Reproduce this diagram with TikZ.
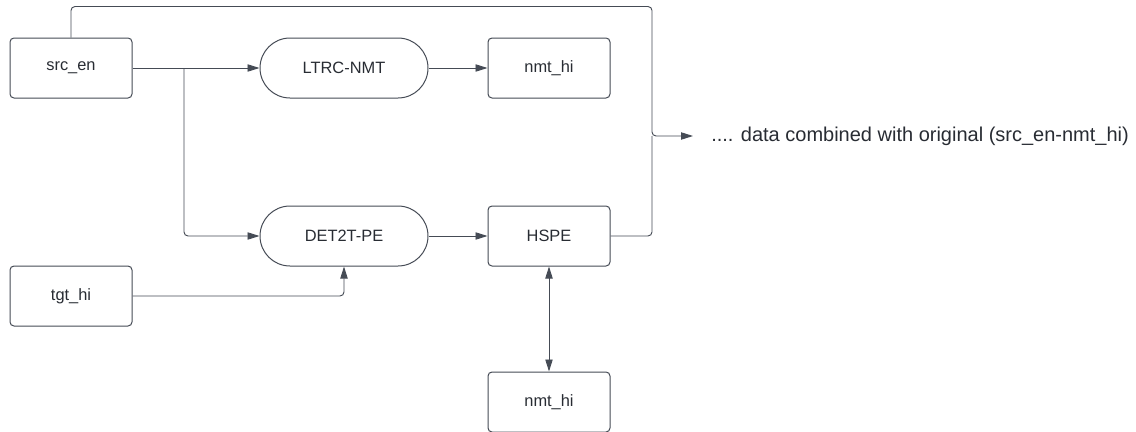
\documentclass[tikz,border=0pt]{standalone}
\usepackage{fontspec}
\setmainfont{Liberation Sans}
\usetikzlibrary{arrows.meta,shapes.misc}
\definecolor{linec}{HTML}{454B55}
\definecolor{textc}{HTML}{282C33}
\begin{document}
\begin{tikzpicture}[x=0.75pt,y=-0.75pt,
  every node/.style={font=\fontsize{12.3}{14}\selectfont,text=textc},
  boxnode/.style={draw=linec,line width=0.75pt,rounded corners=3pt,minimum width=91.5pt,minimum height=45pt,inner sep=0pt},
  procnode/.style={draw=linec,line width=0.75pt,rounded rectangle,minimum width=126pt,minimum height=45pt,inner sep=0pt},
  conn/.style={draw=linec,line width=0.7pt,rounded corners=3pt},
  tip/.style={-{Triangle[length=9pt,width=5.5pt]}}
]
\useasboundingbox (0,0) rectangle (1136,432);
\node[boxnode] (src) at (71,68) {src\_en};
\node[procnode] (ltrc) at (344,68) {LTRC-NMT};
\node[boxnode] (nmt1) at (549,68) {nmt\_hi};
\node[procnode] (det) at (344,236) {DET2T-PE};
\node[boxnode] (hspe) at (549,236) {HSPE};
\node[boxnode] (tgt) at (71,296) {tgt\_hi};
\node[boxnode] (nmt2) at (549,402) {nmt\_hi};
\coordinate (join) at (652,136);
\coordinate (tipend) at (693,136);
\node[anchor=west,inner sep=0pt,font=\fontsize{15}{18}\selectfont] (out) at (711,136) {.... data combined with original (src\_en-nmt\_hi)};

\draw[conn,tip] (src.east) -- (ltrc.west);
\draw[conn,tip] (184,68) -- (184,236) -- (det.west);
\draw[conn,tip] (ltrc.east) -- (nmt1.west);
\draw[conn,tip] (det.east) -- (hspe.west);
\draw[conn,tip] (tgt.east) -- (344,296) -- (det.south);
\draw[conn,{Triangle[length=9pt,width=5.5pt]}-{Triangle[length=9pt,width=5.5pt]}] (hspe.south) -- (nmt2.north);
\draw[conn,tip] (src.north) -- (71,6.5) -- (652,6.5) -- (join) -- (tipend);
\draw[conn] (hspe.east) -- (652,236) -- (join);
\end{tikzpicture}
\end{document}
